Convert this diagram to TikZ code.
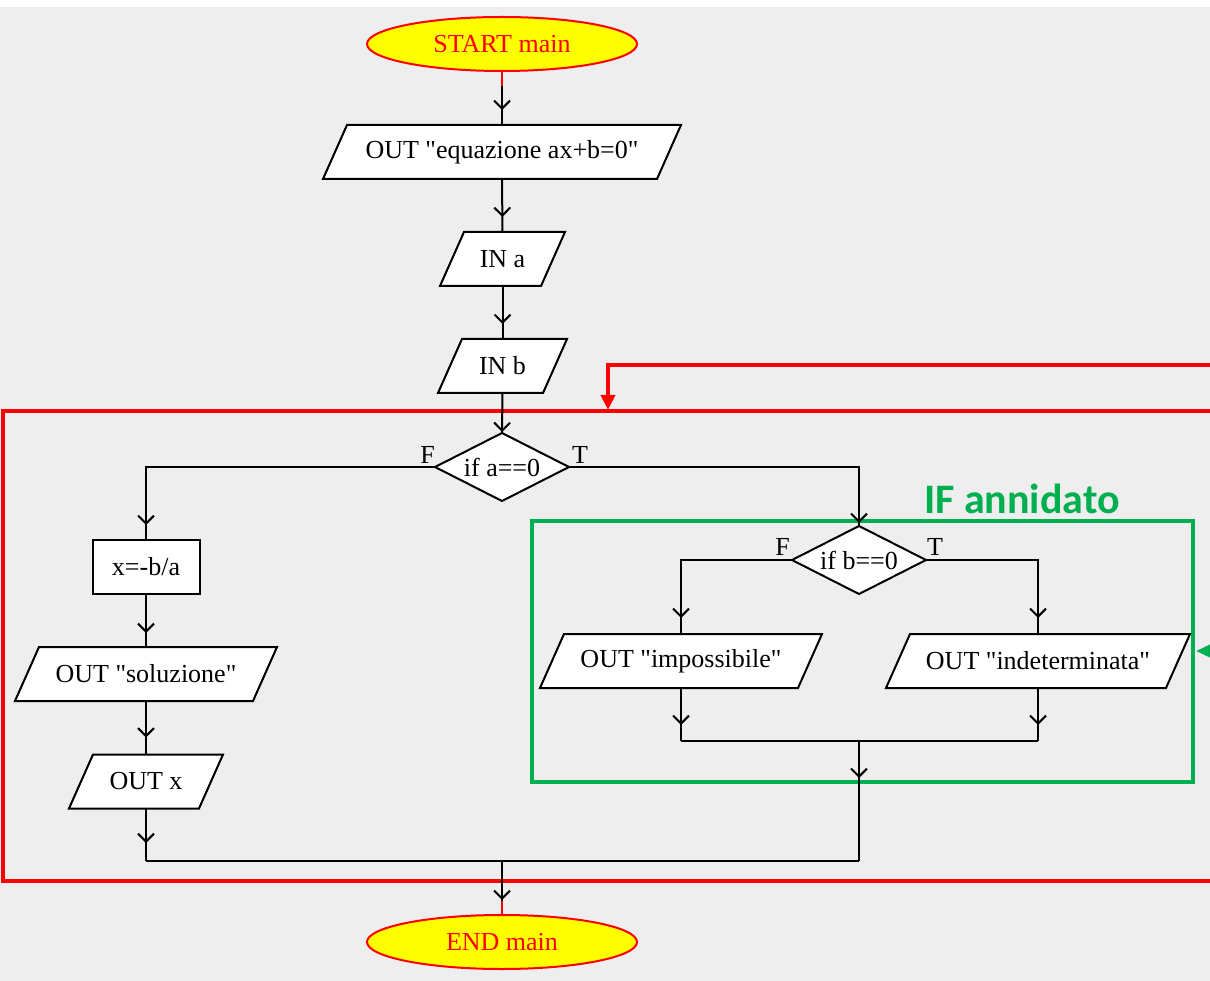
\documentclass[tikz,border=0pt]{standalone}
\usepackage{fontspec}
\setmainfont{Liberation Serif}[Ligatures=TeXOff]
\newfontfamily\notefont{Carlito}
\usetikzlibrary{shapes.geometric,arrows.meta,decorations.markings,calc}

\definecolor{bggray}{HTML}{EEEEEE}
\definecolor{loopred}{HTML}{FF0000}
\definecolor{nestgreen}{HTML}{00B050}
\definecolor{termyellow}{HTML}{FFFF00}

\tikzset{
  line/.style={draw=black, line width=2pt},
  shapeline/.style={draw=black, line width=2pt, fill=white, line join=miter},
  boxtext/.style={rectangle, inner sep=0pt, outer sep=0pt, minimum height=54pt,
                  font=\fontsize{26}{30}\selectfont},
  branch/.style={inner sep=0pt, font=\fontsize{26}{30}\selectfont},
  term/.style={ellipse, draw=loopred, line width=2pt, fill=termyellow, text=loopred,
               minimum width=270pt, minimum height=54pt, inner sep=0pt, outer sep=0pt,
               font=\fontsize{26}{30}\selectfont},
  flow/.style={line, postaction={decorate, decoration={markings,
      mark=at position -#1 with {\arrow{Straight Barb[length=8pt,width=16pt,line width=2pt]}}}}},
  flow/.default=15pt,
  flowstart/.style={line, postaction={decorate, decoration={markings,
      mark=at position #1 with {\arrow{Straight Barb[length=8pt,width=16pt,line width=2pt]}}}}},
  starttail/.style={draw=loopred, line width=1.6pt},
  blockframe/.style={draw=loopred, line width=4.5pt},
  nestframe/.style={draw=nestgreen, line width=3.5pt},
}

% input/output block: name, centre x, centre y, half width at mid height, text
\newcommand\iobox[5]{%
  \draw[shapeline] ({#2-#4+12},{#3-27}) -- ({#2+#4+12},{#3-27})
                -- ({#2+#4-12},{#3+27}) -- ({#2-#4-12},{#3+27}) -- cycle;
  \node[boxtext] (#1) at (#2,#3) {#5};}

% decision block: name, centre x, centre y, text
\newcommand\decision[4]{%
  \draw[shapeline] ({#2-67},#3) -- (#2,{#3-34}) -- ({#2+67},#3) -- (#2,{#3+34}) -- cycle;
  \node[boxtext, minimum width=134pt, minimum height=68pt] (#1) at (#2,#3) {#4};}

\begin{document}
\begin{tikzpicture}[x=1pt,y=-1pt]
\useasboundingbox (0,0) rectangle (1210,981);
\clip (0,0) rectangle (1210,981);
\fill[white] (0,0) rectangle (1210,981);
\fill[bggray] (0,7) rectangle (1210,981);

% outer frame and nested frame
\draw[blockframe] (3,411) rectangle (1230,881);
\draw[nestframe] (532,521) rectangle (1193,782);
\node[text=nestgreen, font=\notefont\bfseries\fontsize{42}{46}\selectfont, anchor=base]
  (nestlabel) at (1022,513) {IF annidato};

% blocks
\node[term] (start) at (502,44) {START main};
\iobox{msg}{502}{152}{167}{OUT "equazione ax+b=0"}
\iobox{ina}{502.5}{259}{50.5}{IN a}
\iobox{inb}{502.5}{366}{52.5}{IN b}
\decision{da}{502}{467}{if a==0}
\draw[shapeline] (92.5,540) rectangle (199.5,594);
\node[boxtext] (calc) at (146,567) {x=-b/a};
\iobox{sol}{146}{674}{119}{OUT "soluzione"}
\iobox{outx}{146}{781.5}{65}{OUT x}
\decision{db}{859}{560}{if b==0}
\iobox{imp}{681}{661}{129}{OUT "impossibile"}
\iobox{ind}{1038}{661}{140}{OUT "indeterminata"}
\node[term] (stop) at (502,942) {END main};

% branch labels
\node[branch, anchor=base east] (fa) at ($(da.west)+(0,-4)$) {F};
\node[branch, anchor=base west] (ta) at ($(da.east)+(3,-4)$) {T};
\node[branch, anchor=base east] (fb) at ($(db.west)+(-2,-5)$) {F};
\node[branch, anchor=base west] (tb) at ($(db.east)+(1,-5)$) {T};

% junction points
\coordinate (j1) at (681,741);
\coordinate (j2) at (1038,741);
\coordinate (j3) at (859,741);
\coordinate (k1) at (146,861);
\coordinate (k2) at (859,861);
\coordinate (k3) at (502,861);

% main sequence
\draw[flow] (start.south) -- (msg.north);
\draw[starttail] (start.south) -- ++(0,15);
\draw[flow] (msg.south) -- (ina.north);
\draw[flow] (ina.south) -- (inb.north);
\draw[flow=1pt] (inb.south) -- (da.north);

% false branch of a==0
\draw[flow] (da.west) -| (calc.north);
\draw[flow=14pt] (calc.south) -- (sol.north);
\draw[flow=17pt] (sol.south) -- (outx.north);
\draw[flow=18pt] (outx.south) -- (k1);

% true branch of a==0
\draw[flow=3pt] (da.east) -| (db.north);
\draw[flow=16pt] (db.west) -| (imp.north);
\draw[flow=16pt] (db.east) -| (ind.north);
\draw[flow=16pt] (imp.south) -- (j1);
\draw[flow=16pt] (ind.south) -- (j2);
\draw[line] (j1) -- (j2);
\draw[flowstart=37pt] (j3) -- (k2);

% merge and end
\draw[line] (k1) -- (k2);
\draw[flow] (k3) -- (stop.north);
\draw[starttail] (stop.north) -- ++(0,-14);

% loop-back arrow into the outer frame
\coordinate (loopin) at (1230,365);
\coordinate (loopbend) at (608,365);
\coordinate (looptip) at (608,410);
\draw[loopred, line width=4pt, -{Triangle[length=15pt,width=14pt]}]
  (loopin) -- (loopbend) -- (looptip);

% arrow pointing at the nested frame
\coordinate (nestin) at (1240,651);
\coordinate (nesttip) at (1196,651);
\draw[nestgreen, line width=3.5pt, -{Triangle[length=16pt,width=14pt]}] (nestin) -- (nesttip);
\end{tikzpicture}
\end{document}
